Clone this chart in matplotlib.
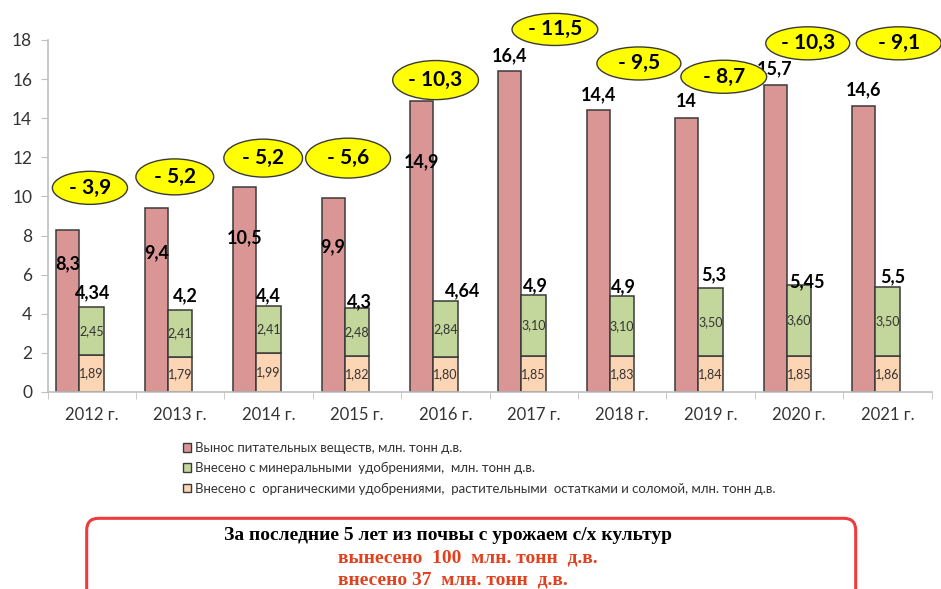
import numpy as np
import matplotlib
matplotlib.use('Agg')
import matplotlib.pyplot as plt
from matplotlib.patches import Ellipse, FancyBboxPatch

plt.rcParams['font.family'] = ['Lato', 'DejaVu Sans']

# data, mln t of active substance
years = ['2012 г.', '2013 г.', '2014 г.', '2015 г.', '2016 г.',
         '2017 г.', '2018 г.', '2019 г.', '2020 г.', '2021 г.']
removal = [8.3, 9.4, 10.5, 9.9, 14.9, 16.4, 14.4, 14.0, 15.7, 14.6]
organic = [1.89, 1.79, 1.99, 1.82, 1.80, 1.85, 1.83, 1.84, 1.85, 1.86]
mineral = [2.45, 2.41, 2.41, 2.48, 2.84, 3.10, 3.10, 3.50, 3.60, 3.50]
applied_total = ['4,34', '4,2', '4,4', '4,3', '4,64', '4,9', '4,9', '5,3', '5,45', '5,5']
balance = [-3.9, -5.2, -5.2, -5.6, -10.3, -11.5, -9.5, -8.7, -10.3, -9.1]

legend_labels = ['Вынос питательных веществ, млн. тонн д.в.',
                 'Внесено с минеральными  удобрениями,  млн. тонн д.в.',
                 'Внесено с  органическими удобрениями,  растительными  остатками и соломой, млн. тонн д.в.']

# label / callout placement
removal_label_y = [6.55, 7.1, 7.9, 7.43, 11.75, 17.2, 15.2, 14.85, 16.55, 15.45]
total_dx = [1, 5, 0, 3, 17, 2, 1, 3, 8, 5]
total_dy = [14, 14, 10, 6, 11, 9, 9, 13, 4, 10]
oval_xy = [(-0.02, 10.44), (0.94, 11.0), (1.94, 11.96), (2.90, 11.96), (3.89, 15.95),
           (5.24, 18.54), (6.19, 16.8), (7.15, 16.12), (8.10, 17.83), (9.13, 17.83)]
oval_wh = [(0.85, 1.69), (0.88, 1.84), (0.89, 1.94), (0.96, 2.04), (0.97, 2.0),
           (0.97, 1.64), (0.95, 1.69), (0.97, 1.69), (0.95, 1.69), (0.96, 1.69)]

c_red = '#D99694'
c_green = '#C3D69B'
c_orange = '#FCD5B5'
c_edge = '#3A3A3A'
c_axis = '#BFBFBF'
c_text = '#333333'

W, H = 941, 589
fig = plt.figure(figsize=(W / 100, H / 100), dpi=100)
ax = fig.add_axes([47.5 / W, 1 - 392 / H, 884 / W, 352 / H])

x = np.arange(len(years))
ax.bar(x - 0.27, removal, width=0.26, color=c_red, edgecolor=c_edge, linewidth=1.1)
ax.bar(x, organic, width=0.28, color=c_orange, edgecolor=c_edge, linewidth=1.1)
ax.bar(x, mineral, bottom=organic, width=0.28, color=c_green, edgecolor=c_edge, linewidth=1.1)

ax.set_xlim(-0.5, len(years) - 0.5)
ax.set_ylim(0, 18)
ax.set_yticks(range(0, 19, 2))
ax.set_xticks(x)
ax.set_xticklabels(years)
ax.set_xticks(np.arange(len(years) + 1) - 0.5, minor=True)
ax.tick_params(axis='x', which='major', length=0, pad=11, labelsize=12, labelcolor=c_text)
ax.tick_params(axis='x', which='minor', length=5, color=c_axis)
ax.tick_params(axis='y', length=5, color=c_axis, labelsize=12.5, labelcolor=c_text, pad=6)
for s in ['top', 'right']:
    ax.spines[s].set_visible(False)
for s in ['left', 'bottom']:
    ax.spines[s].set_color(c_axis)
    ax.spines[s].set_linewidth(1.2)

for i in range(len(years)):
    # removal value
    ax.text(i - 0.27, removal_label_y[i], f'{removal[i]:g}'.replace('.', ','),
            ha='center', va='center', fontsize=13, fontweight='bold', color='black')
    # segments
    ax.text(i, organic[i] / 2, f'{organic[i]:.2f}'.replace('.', ','),
            ha='center', va='center', fontsize=9, color=c_text)
    ax.text(i, organic[i] + mineral[i] / 2, f'{mineral[i]:.2f}'.replace('.', ','),
            ha='center', va='center', fontsize=9, color=c_text)
    # applied total
    ax.annotate(applied_total[i], (i, organic[i] + mineral[i]),
                xytext=(total_dx[i], total_dy[i]), textcoords='offset pixels',
                ha='center', va='center', fontsize=13, fontweight='bold', color='black')
    # balance callout
    ox, oy = oval_xy[i]
    ow, oh = oval_wh[i]
    ax.add_patch(Ellipse((ox, oy), ow, oh, facecolor='#FFFF00', edgecolor=c_edge,
                         linewidth=1.0, clip_on=False, zorder=5))
    ax.text(ox, oy, '- ' + f'{abs(balance[i]):g}'.replace('.', ','),
            ha='center', va='center', fontsize=15, fontweight='bold', color='black',
            zorder=6, clip_on=False)

handles = [plt.Rectangle((0, 0), 1, 1, facecolor=c, edgecolor=c_edge, linewidth=1.0)
           for c in (c_red, c_green, c_orange)]
fig.legend(handles, legend_labels, loc='upper left', bbox_to_anchor=(183 / W, 1 - 442 / H),
           frameon=False, fontsize=9.5, handlelength=0.6, handleheight=0.6,
           handletextpad=0.3, labelspacing=0.62, borderpad=0, borderaxespad=0,
           labelcolor=c_text)

# summary box under the chart, pixel coordinates
ov = fig.add_axes([0, 0, 1, 1])
ov.set_xlim(0, W)
ov.set_ylim(H, 0)
ov.axis('off')
ov.add_patch(FancyBboxPatch((86.7, 518.3), 769, 150,
                            boxstyle='round,pad=0,rounding_size=12',
                            facecolor='none', edgecolor='#EE3B3B', linewidth=2.2))
serif = ['Liberation Serif', 'DejaVu Serif']
ov.text(448, 535, 'За последние 5 лет из почвы с урожаем с/х культур',
        ha='center', va='center', fontsize=14, fontweight='bold', family=serif, color='black')
ov.text(338, 558, 'вынесено  100  млн. тонн  д.в.',
        ha='left', va='center', fontsize=14, fontweight='bold', family=serif, color='#E2401F')
ov.text(338, 580, 'внесено 37  млн. тонн  д.в.',
        ha='left', va='center', fontsize=14, fontweight='bold', family=serif, color='#E2401F')

fig.savefig('out.png', dpi=100)
